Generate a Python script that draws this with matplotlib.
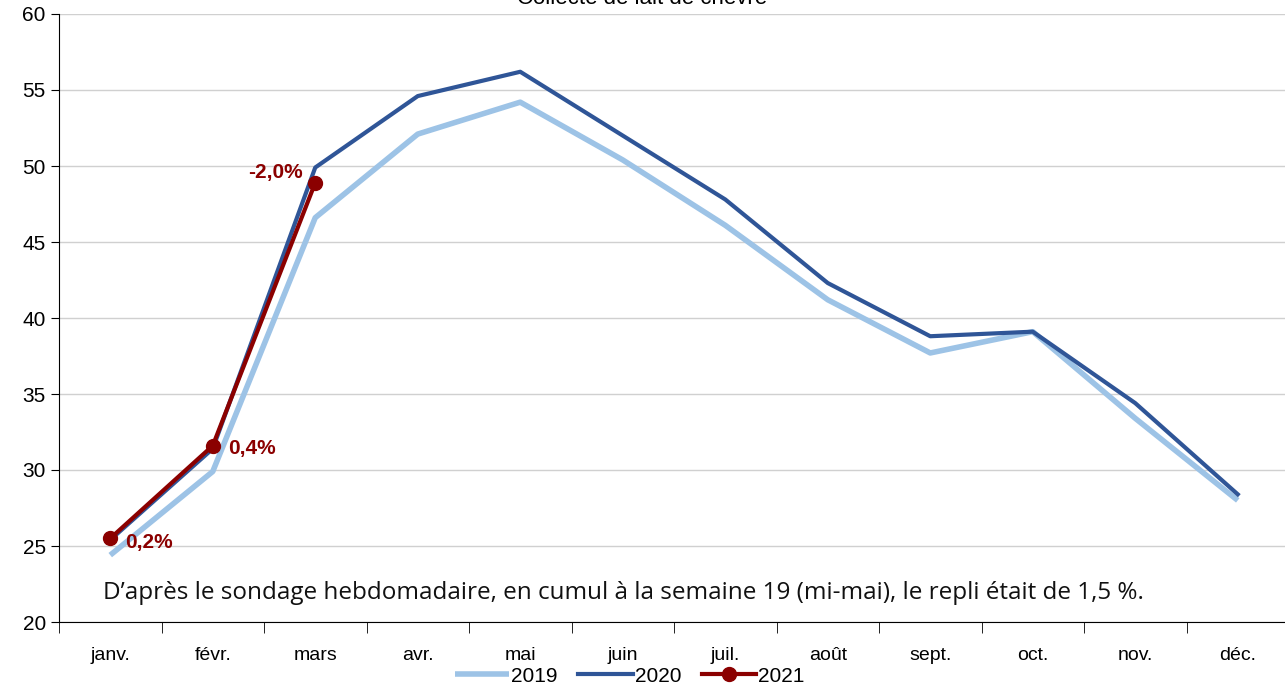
import matplotlib
matplotlib.use('Agg')
import matplotlib.pyplot as plt
from matplotlib.ticker import FixedLocator, NullFormatter

plt.rcParams['font.family'] = ['Liberation Sans', 'DejaVu Sans']

months = ['janv.', 'févr.', 'mars', 'avr.', 'mai', 'juin', 'juil.', 'août',
          'sept.', 'oct.', 'nov.', 'déc.']
v2019 = [24.4, 29.9, 46.6, 52.1, 54.2, 50.4, 46.1, 41.2, 37.7, 39.1, 33.4, 28.0]
v2020 = [25.4, 31.4, 49.9, 54.6, 56.2, 52.0, 47.8, 42.3, 38.8, 39.1, 34.4, 28.4]
v2021 = [25.5, 31.6, 48.9]
labels2021 = ['0,2%', '0,4%', '-2,0%']

fig = plt.figure(figsize=(12.85, 6.84), dpi=100)
ax = fig.add_axes([59 / 1285, 62 / 684, 1230 / 1285, 608 / 684])

x = list(range(len(months)))
ax.plot(x, v2019, color='#9dc3e6', lw=4, label='2019', solid_capstyle='butt')
ax.plot(x, v2020, color='#2f5597', lw=3, label='2020')
ax.plot(x[:3], v2021, color='#8b0000', lw=3, marker='o', ms=10, label='2021')

red = '#8b0000'
ax.annotate(labels2021[0], (0, v2021[0]), xytext=(11, -3), textcoords='offset points',
            color=red, fontweight='bold', fontsize=15, ha='left', va='center')
ax.annotate(labels2021[1], (1, v2021[1]), xytext=(11, -2), textcoords='offset points',
            color=red, fontweight='bold', fontsize=15, ha='left', va='center')
ax.annotate(labels2021[2], (2, v2021[2]), xytext=(-9, 7), textcoords='offset points',
            color=red, fontweight='bold', fontsize=15, ha='right', va='center')

ax.text(-0.07, 21.9, "D\u2019après le sondage hebdomadaire, en cumul à la semaine 19 (mi-mai), le repli était de 1,5 %.",
        fontsize=17.5, family=['Open Sans', 'DejaVu Sans'], va='center', ha='left', color='#111111')

ax.set_xlim(-0.5, 11.5)
ax.set_ylim(20, 60)
ax.set_yticks(range(20, 61, 5))
ax.yaxis.grid(True, color='#d0d0d0', lw=1)
ax.set_axisbelow(True)

ax.set_xticks(x)
ax.set_xticklabels(months, fontsize=14)
ax.tick_params(axis='x', which='major', length=0, pad=18)
ax.xaxis.set_minor_locator(FixedLocator([i + 0.5 for i in range(-1, 12)]))
ax.xaxis.set_minor_formatter(NullFormatter())
ax.tick_params(axis='x', which='minor', length=8, color='black')
ax.tick_params(axis='y', labelsize=15, length=6)

for s in ['top', 'right']:
    ax.spines[s].set_visible(False)
ax.spines['left'].set_color('black')
ax.spines['bottom'].set_color('black')

fig.text(0.5, 1.0 - 4 / 684, 'Collecte de lait de chèvre', ha='center', va='baseline',
         fontsize=16)

fig.legend(loc='lower center', bbox_to_anchor=(0.49, -0.03), ncol=3, frameon=False,
           fontsize=15, handlelength=2.6, handletextpad=0.1, columnspacing=1.0)

fig.savefig('out.png', dpi=100)
